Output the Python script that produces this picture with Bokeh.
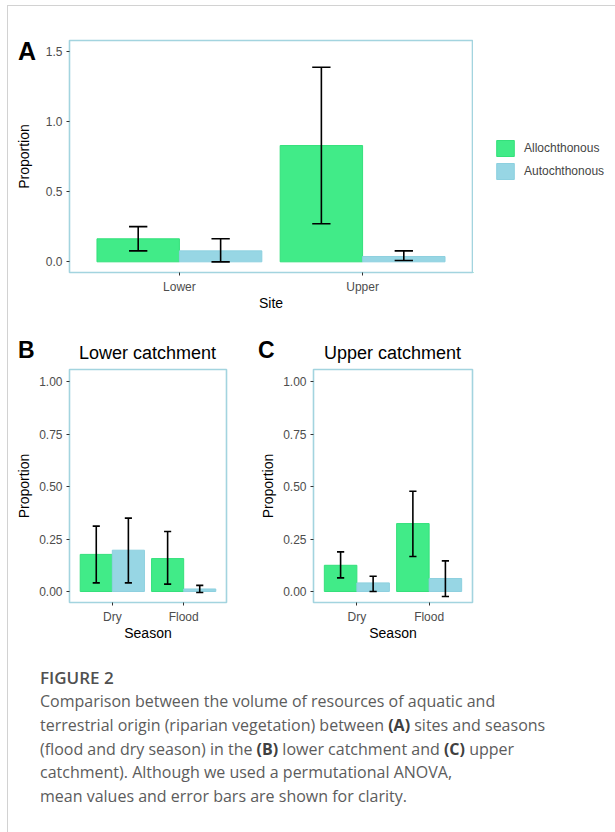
from bokeh.plotting import figure
from bokeh.models import (ColumnDataSource, FixedTicker, Legend, LegendItem,
                          Div, Range1d, PrintfTickFormatter)
from bokeh.layouts import column, row
from bokeh.embed import file_html
from bokeh.resources import INLINE

# ---------------- data ----------------
sites = ["Lower", "Upper"]
seasons = ["Dry", "Flood"]
groups = ["Allochthonous", "Autochthonous"]

# Panel A (by site)
a_allo_mean = [0.164, 0.828]
a_allo_low = [0.078, 0.271]
a_allo_high = [0.251, 1.386]
a_auto_mean = [0.078, 0.038]
a_auto_low = [0.000, 0.009]
a_auto_high = [0.164, 0.078]

# Panel B (lower catchment, by season)
b_allo_mean = [0.177, 0.157]
b_allo_low = [0.041, 0.035]
b_allo_high = [0.312, 0.286]
b_auto_mean = [0.197, 0.012]
b_auto_low = [0.041, -0.005]
b_auto_high = [0.350, 0.029]

# Panel C (upper catchment, by season)
c_allo_mean = [0.125, 0.324]
c_allo_low = [0.065, 0.167]
c_allo_high = [0.189, 0.478]
c_auto_mean = [0.041, 0.062]
c_auto_low = [0.000, -0.024]
c_auto_high = [0.073, 0.146]

a_yticks = [0.0, 0.5, 1.0, 1.5]
bc_yticks = [0.0, 0.25, 0.5, 0.75, 1.0]

# ---------------- style ----------------
GREEN = "#41EB88"
GREEN_LINE = "#34E07B"
BLUE = "#97D6E4"
BLUE_LINE = "#8DD0DF"
FRAME = "#A3D4DF"
FONT = "Liberation Sans"
FILLS = [(GREEN, GREEN_LINE), (BLUE, BLUE_LINE)]


def make_panel(cats, series, width, height, mb, yr, yticks, yfmt, xlabel,
               ylabel_standoff, cap_half=0.05):
    p = figure(width=width, height=height, x_range=Range1d(0.4, 0.6 + len(cats)),
               y_range=Range1d(*yr), output_backend="svg", toolbar_location=None,
               min_border_left=mb[0], min_border_right=mb[1],
               min_border_top=mb[2], min_border_bottom=mb[3])
    p.background_fill_color = "white"
    p.border_fill_color = "white"
    p.outline_line_color = FRAME
    p.outline_line_width = 1.6
    p.grid.grid_line_color = None

    xs = list(range(1, len(cats) + 1))
    offsets = [-0.225, 0.225]
    srcs = []
    for k, (mean, low, high) in enumerate(series):
        x = [xi + offsets[k] for xi in xs]
        src = ColumnDataSource(dict(x=x, top=mean, low=low, high=high,
                                    x0=[v - cap_half for v in x],
                                    x1=[v + cap_half for v in x]))
        srcs.append(src)
        p.vbar(x="x", top="top", bottom=0, width=0.45, source=src,
               fill_color=FILLS[k][0], line_color=FILLS[k][1], line_width=1)
    for src in srcs:
        kw = dict(source=src, line_color="black", line_width=1.6)
        p.segment(x0="x", x1="x", y0="low", y1="high", **kw)
        p.segment(x0="x0", x1="x1", y0="high", y1="high", **kw)
        p.segment(x0="x0", x1="x1", y0="low", y1="low", **kw)

    p.xaxis.ticker = FixedTicker(ticks=xs)
    p.xaxis.major_label_overrides = {xi: c for xi, c in zip(xs, cats)}
    p.yaxis.ticker = FixedTicker(ticks=yticks)
    p.yaxis.formatter = PrintfTickFormatter(format=yfmt)
    p.xaxis.axis_label = xlabel
    p.yaxis.axis_label = "Proportion"
    for ax in (p.xaxis[0], p.yaxis[0]):
        ax.axis_line_color = None
        ax.major_tick_line_color = "#333333"
        ax.major_tick_line_width = 1
        ax.major_tick_in = 0
        ax.major_tick_out = 3
        ax.minor_tick_line_color = None
        ax.major_label_text_font = FONT
        ax.major_label_text_font_size = "12px"
        ax.major_label_text_color = "#4D4D4D"
        ax.axis_label_text_font = FONT
        ax.axis_label_text_font_size = "14px"
        ax.axis_label_text_font_style = "normal"
        ax.axis_label_text_color = "black"
    p.xaxis.major_label_standoff = 4
    p.xaxis.axis_label_standoff = -2
    p.yaxis.major_label_standoff = 4
    p.yaxis.axis_label_standoff = ylabel_standoff
    return p


# ---------------- panel A ----------------
pA = make_panel(
    sites,
    [(a_allo_mean, a_allo_low, a_allo_high), (a_auto_mean, a_auto_low, a_auto_high)],
    width=473, height=318, mb=(69, 1, 40, 46), yr=(-0.076, 1.576),
    yticks=a_yticks, yfmt="%.1f", xlabel="Site", ylabel_standoff=11)

# legend for panel A, in its own small figure to the right
pL = figure(width=142, height=318, x_range=(0, 1), y_range=(0, 1),
            output_backend="svg", toolbar_location=None,
            x_axis_location=None, y_axis_location=None,
            min_border_left=0, min_border_right=0, min_border_top=0, min_border_bottom=0)
pL.outline_line_color = None
pL.grid.grid_line_color = None
pL.background_fill_color = "white"
pL.border_fill_color = "white"
# key-only renderers (their single bar lies outside the visible range)
key_src = ColumnDataSource(dict(x=[-5.0], top=[-5.0]))
key_renderers = [pL.vbar(x="x", top="top", bottom=-6, width=0.1, source=key_src,
                         fill_color=FILLS[k][0], line_color=FILLS[k][1])
                 for k in range(2)]
legend = Legend(items=[LegendItem(label=groups[k], renderers=[key_renderers[k]])
                       for k in range(2)],
                location=(21, 91), margin=0, padding=0, spacing=3,
                glyph_width=22, glyph_height=20, label_height=20, label_standoff=8,
                label_text_font=FONT, label_text_font_size="12px",
                border_line_color=None, background_fill_alpha=0)
pL.add_layout(legend)

# ---------------- header for panels B and C ----------------
LET = "position:absolute; font-family:Liberation Sans, Arial, sans-serif; font-weight:bold; color:black;"
TIT = "position:absolute; font-family:Liberation Sans, Arial, sans-serif; color:black; text-align:center;"
header_html = (
    '<div style="position:relative; width:615px; height:48px;">'
    f'<div style="{LET} left:18px; top:21px; font-size:23px; line-height:23px;">B</div>'
    f'<div style="{TIT} left:69px; width:157px; top:26px; font-size:18px; line-height:18px;">Lower catchment</div>'
    f'<div style="{LET} left:258px; top:21px; font-size:23px; line-height:23px;">C</div>'
    f'<div style="{TIT} left:313px; width:159px; top:26px; font-size:18px; line-height:18px;">Upper catchment</div>'
    '</div>'
)
header = Div(text=header_html, width=615, height=48, margin=0)

# ---------------- panel B ----------------
pB = make_panel(
    seasons,
    [(b_allo_mean, b_allo_low, b_allo_high), (b_auto_mean, b_auto_low, b_auto_high)],
    width=252, height=281, mb=(69, 26, 3, 45), yr=(-0.0525, 1.059),
    yticks=bc_yticks, yfmt="%.2f", xlabel="Season", ylabel_standoff=4)

# ---------------- panel C ----------------
pC = make_panel(
    seasons,
    [(c_allo_mean, c_allo_low, c_allo_high), (c_auto_mean, c_auto_low, c_auto_high)],
    width=363, height=281, mb=(61, 143, 3, 45), yr=(-0.0525, 1.059),
    yticks=bc_yticks, yfmt="%.2f", xlabel="Season", ylabel_standoff=4)

# ---------------- caption ----------------
caption_html = (
    '<div style="padding:18px 0 0 40px; font-family:Open Sans, sans-serif; color:#5c5c5c; '
    'white-space:nowrap;">'
    '<div style="font-size:17px; font-weight:600; line-height:25px; color:#505050;">FIGURE 2</div>'
    '<div style="font-size:16px; line-height:23.75px;">'
    'Comparison between the volume of resources of aquatic and<br>'
    'terrestrial origin (riparian vegetation) between <b style="color:#404040">(A)</b> sites and seasons<br>'
    '(flood and dry season) in the <b style="color:#404040">(B)</b> lower catchment and '
    '<b style="color:#404040">(C)</b> upper<br>'
    'catchment). Although we used a permutational ANOVA,<br>'
    'mean values and error bars are shown for clarity.'
    '</div></div>'
)
caption = Div(text=caption_html, width=615, height=185, margin=0)

# ---------------- overlay: panel letter A and page frame ----------------
overlay_html = (
    '<div style="position:absolute; left:7px; top:5px; width:640px; height:860px; '
    'border-left:1.5px solid #d2d2d2; border-top:1.5px solid #d2d2d2;"></div>'
    f'<div style="{LET} left:18px; top:39px; font-size:25px; line-height:25px;">A</div>'
)
overlay = Div(text=overlay_html, width=60, height=60, margin=0,
              styles={"position": "absolute", "left": "0px", "top": "0px", "z-index": "10"})

layout = column(row(pA, pL), header, row(pB, pC), caption, overlay)
open("out.html", "w").write(file_html(layout, INLINE))
